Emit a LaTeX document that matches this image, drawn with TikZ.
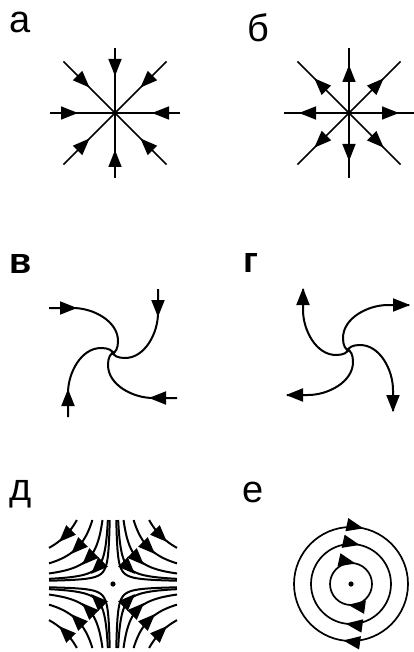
\documentclass[tikz,border=0pt]{standalone}
\usepackage{fontspec}
\setmainfont{Liberation Sans}
\usetikzlibrary{arrows.meta,decorations.markings}
\tikzset{
  tri/.tip={Triangle[length=17pt,width=13pt]},
  lbl/.style={inner sep=0pt, anchor=base west, font=\fontsize{38}{40}\selectfont},
  lblb/.style={lbl, font=\fontsize{36}{40}\selectfont\bfseries},
  ray/.style={line width=1.5pt},
  spir/.style={line width=2pt},
  sad/.style={line width=2pt},
  orb/.style={line width=1.7pt},
  mk/.style={decoration={markings, mark=at position #1 with {\arrow{tri}}}, postaction={decorate}},
}
\begin{document}
\begin{tikzpicture}[x=1pt,y=-1pt]
\useasboundingbox (0,0) rectangle (413,652);
% labels
\node[lbl]  (la) at (9,33)  {а};
\node[lbl]  (lb) at (247,42) {б};
\node[lblb] (lv) at (9,273) {в};
\node[lblb] (lg) at (243,272) {г};
\node[lbl]  (ld) at (9,500) {д};
\node[lbl]  (le) at (242,502) {е};
% panel a: stable node (inward)
\coordinate (A) at (115,113);
\foreach \ang/\len/\p in {0/65/28,90/65/28,180/65/28,270/65/28,45/73/37,135/73/37,225/73/37,315/73/37}
  \draw[ray, mk=\p pt] ([shift={(\ang:\len)}]A) -- (A);
% panel b: unstable node (outward)
\coordinate (B) at (349,113);
\foreach \ang/\len/\p in {0/65/50,90/65/48,180/65/50,270/65/48,45/73/49,135/73/49,225/73/49,315/73/49}
  \draw[ray, mk=\p pt] (B) -- ([shift={(\ang:\len)}]B);
% panel v: stable focus
\begin{scope}[shift={(113,353)}]
  \foreach \r in {0,-90,-180,-270}{
    \begin{scope}[rotate=\r]
      \draw[spir] (-64,-45) -- (-40,-45) .. controls (-20,-45) and (5,-32) .. (5,-12) .. controls (5,-5) and (3,0) .. (-2,1);
      \draw[spir,-tri] (-50,-45) -- (-36,-45);
    \end{scope}}
\end{scope}
% panel g: unstable focus
\begin{scope}[shift={(348,350)}, xscale=-1]
  \foreach \r in {0,-90,-180,-270}{
    \begin{scope}[rotate=\r]
      \draw[spir] (-61,-45) -- (-40,-45) .. controls (-20,-45) and (5,-32) .. (5,-12) .. controls (5,-5) and (3,0) .. (-2,1);
      \draw[spir,-tri] (-47,-45) -- (-62,-45);
    \end{scope}}
\end{scope}
% panel d: saddle  (|x|-2)(|y|-2)=k^2
\begin{scope}[shift={(113,584)}]
  \foreach \sx/\sy in {1/1,1/-1,-1/1,-1/-1}{
    \foreach \k in {46,34,23,14}{
      \pgfmathsetmacro\tz{ln(62/\k)}
      \draw[sad] plot[domain=-\tz:\tz, samples=30, smooth, variable=\u] ({\sx*(2+\k*exp(\u))},{\sy*(2+\k*exp(-\u))});
      \draw[sad,-tri] ({\sx*(\k+2-6)},{\sy*(\k+2+6)}) -- ({\sx*(\k+2+6)},{\sy*(\k+2-6)});
    }
    \pgfmathsetmacro\tz{ln(62/9)}
    \draw[sad] plot[domain=-\tz:\tz, samples=40, smooth, variable=\u] ({\sx*(2+9*exp(\u))},{\sy*(2+9*exp(-\u))});
  }
  \fill (0,0) circle (2.6);
\end{scope}
% panel e: centre
\coordinate (E) at (351,584);
\foreach \r in {57,40,21}
  \draw[orb, decoration={markings, mark=at position 0.272 with {\arrow{tri}}, mark=at position 0.785 with {\arrow{tri}}}, postaction={decorate}] (E) circle (\r);
\fill (E) circle (2.6);
\end{tikzpicture}
\end{document}
